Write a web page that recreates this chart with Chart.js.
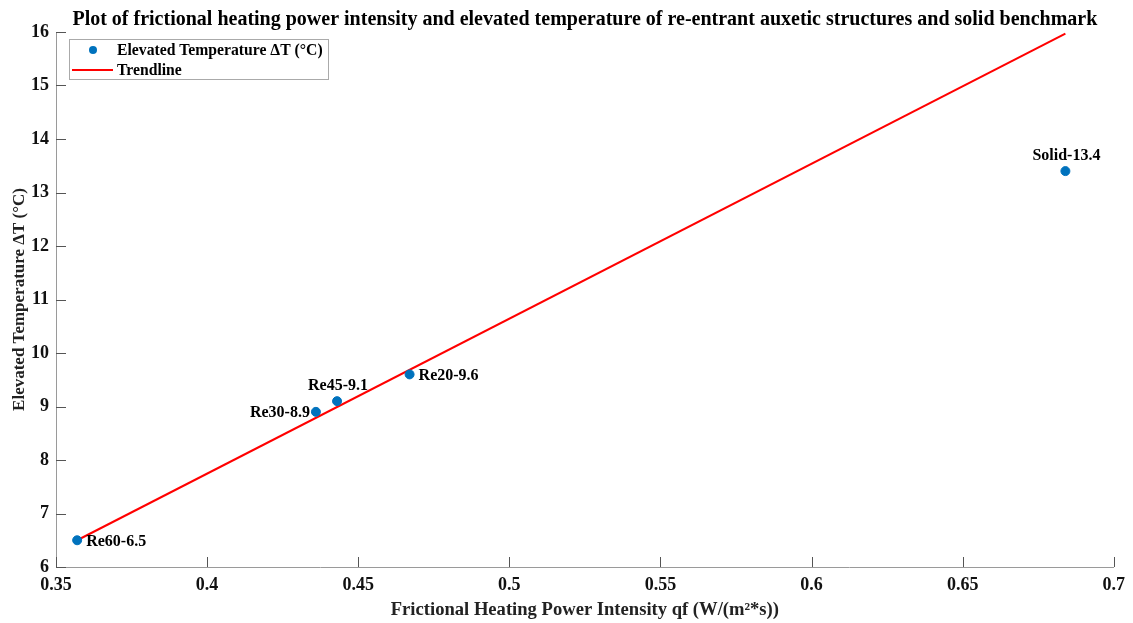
<!DOCTYPE html>
<html>
<head>
<meta charset="utf-8">
<script src="https://cdn.jsdelivr.net/npm/chart.js@4.4.0/dist/chart.umd.min.js"></script>
<style>
body { margin: 0; background: #fff; }
</style>
</head>
<body>
<canvas id="plot" width="1133" height="623"></canvas>
<script>
// measured points (qf, deltaT)
const pointNames = ['Re60-6.5', 'Re30-8.9', 'Re45-9.1', 'Re20-9.6', 'Solid-13.4']
const heatingPower = [0.357, 0.436, 0.443, 0.467, 0.684]
const tempRise = [6.5, 8.9, 9.1, 9.6, 13.4]

// trendline end points
const trendX = [0.357, 0.684]
const trendY = [6.5, 15.97]

const xTicks = [0.35, 0.4, 0.45, 0.5, 0.55, 0.6, 0.65, 0.7]
const yTicks = [6, 7, 8, 9, 10, 11, 12, 13, 14, 15, 16]

// where each point label sits
const labelSide = ['right', 'left', 'above', 'right', 'above']

const serif = "'Liberation Serif', 'Times New Roman', serif"
const titleText = 'Plot of frictional heating power intensity and elevated temperature of re-entrant auxetic structures and solid benchmark'

const pointLabels = {
    id: 'pointLabels',
    afterDatasetsDraw(chart) {
        let ctx = chart.ctx
        let meta = chart.getDatasetMeta(0)
        ctx.save()
        ctx.font = 'bold 16px ' + serif
        ctx.fillStyle = '#000'
        ctx.textBaseline = 'alphabetic'
        meta.data.forEach((pt, i) => {
            let side = labelSide[i]
            if (side == 'right') {
                ctx.textAlign = 'left'
                ctx.fillText(pointNames[i], pt.x + 9, pt.y + 6)
            } else if (side == 'left') {
                ctx.textAlign = 'right'
                ctx.fillText(pointNames[i], pt.x - 6, pt.y + 5)
            } else {
                ctx.textAlign = 'center'
                ctx.fillText(pointNames[i], pt.x + 1, pt.y - 11)
            }
        })
        ctx.restore()
    }
}

const decorations = {
    id: 'decorations',
    afterDraw(chart) {
        let ctx = chart.ctx
        let area = chart.chartArea
        let xs = chart.scales.x
        let ys = chart.scales.y
        ctx.save()

        // inward tick marks
        ctx.strokeStyle = '#555'
        ctx.lineWidth = 1
        ctx.beginPath()
        xTicks.forEach(v => {
            let px = Math.round(xs.getPixelForValue(v)) + 0.5
            ctx.moveTo(px, area.bottom)
            ctx.lineTo(px, area.bottom - 10)
        })
        yTicks.forEach(v => {
            let py = Math.round(ys.getPixelForValue(v)) + 0.5
            ctx.moveTo(area.left, py)
            ctx.lineTo(area.left + 10, py)
        })
        ctx.stroke()

        // title
        ctx.font = 'bold 20px ' + serif
        ctx.fillStyle = '#000'
        ctx.textAlign = 'center'
        ctx.textBaseline = 'alphabetic'
        ctx.fillText(titleText, (area.left + area.right) / 2, 25)

        // legend box
        let ds = chart.data.datasets
        ctx.fillStyle = '#fff'
        ctx.fillRect(69, 39, 259, 40)
        ctx.strokeStyle = '#aaa'
        ctx.strokeRect(69.5, 39.5, 259, 40)

        ctx.fillStyle = ds[0].backgroundColor
        ctx.beginPath()
        ctx.arc(93, 50, 4, 0, Math.PI * 2)
        ctx.fill()

        ctx.strokeStyle = ds[1].borderColor
        ctx.lineWidth = 2
        ctx.beginPath()
        ctx.moveTo(72, 70)
        ctx.lineTo(113, 70)
        ctx.stroke()

        ctx.font = 'bold 15.7px ' + serif
        ctx.fillStyle = '#000'
        ctx.textAlign = 'left'
        ctx.fillText(ds[0].label, 117, 55)
        ctx.fillText(ds[1].label, 117, 75)
        ctx.restore()
    }
}

function makeChart() {
    let canvas = document.getElementById('plot')

    new Chart(canvas, {
        type: 'scatter',
        data: {
            datasets: [{
                label: 'Elevated Temperature \u0394T (\u00B0C)',
                data: heatingPower.map((x, i) => ({ x: x, y: tempRise[i] })),
                backgroundColor: '#0072BD',
                borderColor: '#0072BD',
                pointRadius: 4.5,
                order: 0
            }, {
                label: 'Trendline',
                data: trendX.map((x, i) => ({ x: x, y: trendY[i] })),
                showLine: true,
                borderColor: '#FF0000',
                borderWidth: 2,
                pointRadius: 0,
                order: 1
            }]
        },
        options: {
            responsive: false,
            animation: false,
            layout: { padding: { top: 32, right: 17, left: 0, bottom: 0 } },
            plugins: {
                legend: { display: false },
                tooltip: { enabled: false }
            },
            scales: {
                x: {
                    type: 'linear',
                    min: 0.35,
                    max: 0.7,
                    afterBuildTicks: (scale) => { scale.ticks = xTicks.map(v => ({ value: v })) },
                    afterFit: (scale) => { scale.height = 56 },
                    grid: { display: false, drawTicks: false },
                    border: { display: true, color: '#9a9a9a' },
                    ticks: {
                        padding: 8,
                        color: '#111',
                        font: { family: serif, size: 18, weight: 'bold' },
                        callback: (v) => String(v)
                    },
                    title: {
                        display: true,
                        text: 'Frictional Heating Power Intensity qf (W/(m\u00B2*s))',
                        color: '#222',
                        font: { family: serif, size: 18.6, weight: 'bold' },
                        padding: { top: 0, bottom: 2 }
                    }
                },
                y: {
                    type: 'linear',
                    min: 6,
                    max: 16,
                    afterBuildTicks: (scale) => { scale.ticks = yTicks.map(v => ({ value: v })) },
                    afterFit: (scale) => { scale.width = 56 },
                    grid: { display: false, drawTicks: false },
                    border: { display: true, color: '#9a9a9a' },
                    ticks: {
                        padding: 7,
                        color: '#111',
                        font: { family: serif, size: 18, weight: 'bold' },
                        callback: (v) => String(v)
                    },
                    title: {
                        display: true,
                        text: 'Elevated Temperature \u0394T (\u00B0C)',
                        color: '#222',
                        font: { family: serif, size: 17, weight: 'bold' },
                        padding: { top: 9, bottom: 0 }
                    }
                }
            }
        },
        plugins: [pointLabels, decorations]
    })
}

window.onload = function() {
    makeChart()
}
</script>
</body>
</html>
